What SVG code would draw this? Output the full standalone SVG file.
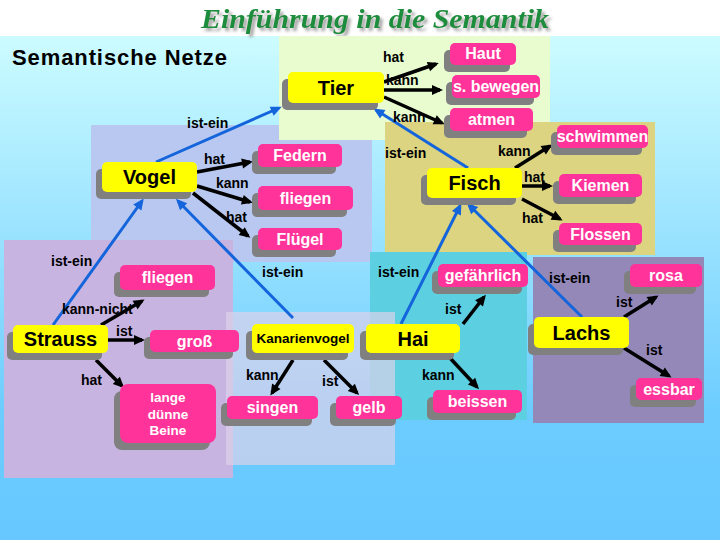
<svg xmlns="http://www.w3.org/2000/svg" width="720" height="540" viewBox="0 0 720 540">
<defs>
<linearGradient id="bg" x1="0" y1="0" x2="0" y2="1">
<stop offset="0" stop-color="#ccfcff"/>
<stop offset="0.75" stop-color="#6cccff"/>
<stop offset="1" stop-color="#66c8ff"/>
</linearGradient>
<filter id="tsh" x="-5%" y="-30%" width="110%" height="170%">
<feDropShadow dx="3" dy="3" stdDeviation="1.5" flood-color="#808080" flood-opacity="0.7"/>
</filter>
<marker id="ab" markerUnits="userSpaceOnUse" markerWidth="14" markerHeight="12" viewBox="0 -6 12 12" refX="8" refY="0" orient="auto">
<path d="M0,-5 L11,0 L0,5 z" fill="#000"/>
</marker>
<marker id="au" markerUnits="userSpaceOnUse" markerWidth="14" markerHeight="12" viewBox="0 -6 12 12" refX="8" refY="0" orient="auto">
<path d="M0,-5 L11,0 L0,5 z" fill="#1464dc"/>
</marker>
</defs>
<style>
.sh{fill:#808080}
.y{fill:#ffff00}
.p{fill:#ff3399}
.yt{font-family:"Liberation Sans",Arial,sans-serif;font-weight:bold;font-size:20px;fill:#000;text-anchor:middle}
.pt{font-family:"Liberation Sans",Arial,sans-serif;font-weight:bold;font-size:16px;fill:#fff;text-anchor:middle}
.lb{font-family:"Liberation Sans",Arial,sans-serif;font-weight:bold;font-size:14px;fill:#000}
.bk{stroke:#000;stroke-width:3.5;fill:none;marker-end:url(#ab)}
.bl{stroke:#1464dc;stroke-width:3;fill:none;marker-end:url(#au)}
</style>
<rect x="0" y="0" width="720" height="540" fill="#ffffff"/>
<rect x="0" y="36" width="720" height="504" fill="url(#bg)"/>
<g id="title">
<text x="201" y="28" font-family="Liberation Serif,serif" font-style="italic" font-weight="bold" font-size="27" textLength="348" lengthAdjust="spacingAndGlyphs" fill="#1e8c3c" filter="url(#tsh)">Einführung in die Semantik</text>
</g>
<g id="regions">
<rect x="91" y="125" width="281" height="137" fill="#b8c8f0"/>
<rect x="279" y="36" width="271" height="104" fill="#e8fcd0"/>
<rect x="385" y="122" width="270" height="133" fill="#dcd480"/>
<rect x="4" y="240" width="229" height="238" fill="#c8b4e0"/>
<rect x="370" y="252" width="157" height="168" fill="#5cd0e0"/>
<rect x="533" y="257" width="171" height="166" fill="#9488b8"/>
<rect x="226" y="312" width="169" height="153" fill="#dcd2eb" opacity="0.7"/>
</g>
<text x="12" y="65" font-family="Liberation Sans,Arial,sans-serif" font-weight="bold" font-size="22" letter-spacing="0.9" fill="#000">Semantische Netze</text>
<g id="connectors">
<line class="bk" x1="384" y1="82" x2="436" y2="64"/>
<line class="bk" x1="384" y1="90" x2="440" y2="90"/>
<line class="bk" x1="384" y1="97" x2="442" y2="123"/>
<line class="bk" x1="197" y1="172" x2="250" y2="162"/>
<line class="bk" x1="197" y1="186" x2="250" y2="202"/>
<line class="bk" x1="193" y1="193" x2="248" y2="236"/>
<line class="bk" x1="515" y1="168" x2="550" y2="146"/>
<line class="bk" x1="522" y1="186" x2="550" y2="186"/>
<line class="bk" x1="522" y1="199" x2="560" y2="219"/>
<line class="bk" x1="101" y1="325" x2="142" y2="301"/>
<line class="bk" x1="108" y1="340" x2="142" y2="340"/>
<line class="bk" x1="96" y1="360" x2="122" y2="386"/>
<line class="bk" x1="293" y1="360" x2="272" y2="393"/>
<line class="bk" x1="324" y1="360" x2="357" y2="393"/>
<line class="bk" x1="463" y1="324" x2="484" y2="297"/>
<line class="bk" x1="450" y1="358" x2="477" y2="387"/>
<line class="bk" x1="624" y1="317" x2="656" y2="297"/>
<line class="bk" x1="624" y1="348" x2="669" y2="376"/>
<line class="bl" x1="156" y1="162" x2="279" y2="108"/>
<line class="bl" x1="468" y1="168" x2="376" y2="110"/>
<line class="bl" x1="53" y1="325" x2="142" y2="201"/>
<line class="bl" x1="293" y1="318" x2="178" y2="201"/>
<line class="bl" x1="401" y1="324" x2="460" y2="206"/>
<line class="bl" x1="582" y1="317" x2="469" y2="205"/>
</g>
<g id="labels">
<text class="lb" x="383" y="62">hat</text>
<text class="lb" x="386" y="85">kann</text>
<text class="lb" x="393" y="122">kann</text>
<text class="lb" x="187" y="128">ist-ein</text>
<text class="lb" x="385" y="158">ist-ein</text>
<text class="lb" x="204" y="164">hat</text>
<text class="lb" x="216" y="188">kann</text>
<text class="lb" x="226" y="222">hat</text>
<text class="lb" x="498" y="156">kann</text>
<text class="lb" x="524" y="182">hat</text>
<text class="lb" x="522" y="223">hat</text>
<text class="lb" x="51" y="266">ist-ein</text>
<text class="lb" x="262" y="277">ist-ein</text>
<text class="lb" x="378" y="277">ist-ein</text>
<text class="lb" x="549" y="283">ist-ein</text>
<text class="lb" x="62" y="314">kann-nicht</text>
<text class="lb" x="116" y="336">ist</text>
<text class="lb" x="81" y="385">hat</text>
<text class="lb" x="246" y="380">kann</text>
<text class="lb" x="322" y="386">ist</text>
<text class="lb" x="445" y="314">ist</text>
<text class="lb" x="422" y="380">kann</text>
<text class="lb" x="616" y="307">ist</text>
<text class="lb" x="646" y="355">ist</text>
</g>
<g id="node-tier"><rect class="sh" x="282" y="79" width="96" height="31" rx="5"/><rect class="y" x="288" y="72" width="96" height="31" rx="5"/><text class="yt" x="336" y="95">Tier</text></g>
<g id="node-fisch"><rect class="sh" x="421" y="175" width="95" height="30" rx="5"/><rect class="y" x="427" y="168" width="95" height="30" rx="5"/><text class="yt" x="474.5" y="190">Fisch</text></g>
<g id="node-vogel"><rect class="sh" x="96" y="169" width="95" height="30" rx="5"/><rect class="y" x="102" y="162" width="95" height="30" rx="5"/><text class="yt" x="149.5" y="184">Vogel</text></g>
<g id="node-strauss"><rect class="sh" x="7" y="332" width="95" height="28" rx="5"/><rect class="y" x="13" y="325" width="95" height="28" rx="5"/><text class="yt" x="60.5" y="346">Strauss</text></g>
<g id="node-kanarienvogel"><rect class="sh" x="246" y="331" width="102" height="29" rx="5"/><rect class="y" x="252" y="324" width="102" height="29" rx="5"/><text class="yt" x="303" y="343" style="font-size:13.5px">Kanarienvogel</text></g>
<g id="node-hai"><rect class="sh" x="360" y="331" width="94" height="29" rx="5"/><rect class="y" x="366" y="324" width="94" height="29" rx="5"/><text class="yt" x="413" y="346">Hai</text></g>
<g id="node-lachs"><rect class="sh" x="528" y="324" width="95" height="31" rx="5"/><rect class="y" x="534" y="317" width="95" height="31" rx="5"/><text class="yt" x="581.5" y="340">Lachs</text></g>
<g id="node-haut"><rect class="sh" x="444" y="50" width="66" height="22" rx="5"/><rect class="p" x="450" y="43" width="66" height="22" rx="5"/><text class="pt" x="483" y="59">Haut</text></g>
<g id="node-bewegen"><rect class="sh" x="446" y="82" width="88" height="23" rx="5"/><rect class="p" x="452" y="75" width="88" height="23" rx="5"/><text class="pt" x="496" y="92">s. bewegen</text></g>
<g id="node-atmen"><rect class="sh" x="444" y="115" width="83" height="23" rx="5"/><rect class="p" x="450" y="108" width="83" height="23" rx="5"/><text class="pt" x="491.5" y="125">atmen</text></g>
<g id="node-schwimmen"><rect class="sh" x="551" y="132" width="91" height="23" rx="5"/><rect class="p" x="557" y="125" width="91" height="23" rx="5"/><text class="pt" x="602.5" y="142">schwimmen</text></g>
<g id="node-kiemen"><rect class="sh" x="553" y="181" width="83" height="23" rx="5"/><rect class="p" x="559" y="174" width="83" height="23" rx="5"/><text class="pt" x="600.5" y="191">Kiemen</text></g>
<g id="node-flossen"><rect class="sh" x="553" y="230" width="83" height="22" rx="5"/><rect class="p" x="559" y="223" width="83" height="22" rx="5"/><text class="pt" x="600.5" y="240">Flossen</text></g>
<g id="node-federn"><rect class="sh" x="252" y="151" width="84" height="23" rx="5"/><rect class="p" x="258" y="144" width="84" height="23" rx="5"/><text class="pt" x="300" y="161">Federn</text></g>
<g id="node-fliegen1"><rect class="sh" x="252" y="193" width="95" height="24" rx="5"/><rect class="p" x="258" y="186" width="95" height="24" rx="5"/><text class="pt" x="305.5" y="204">fliegen</text></g>
<g id="node-fluegel"><rect class="sh" x="252" y="235" width="84" height="22" rx="5"/><rect class="p" x="258" y="228" width="84" height="22" rx="5"/><text class="pt" x="300" y="245">Flügel</text></g>
<g id="node-fliegen2"><rect class="sh" x="114" y="272" width="95" height="25" rx="5"/><rect class="p" x="120" y="265" width="95" height="25" rx="5"/><text class="pt" x="167.5" y="283">fliegen</text></g>
<g id="node-gross"><rect class="sh" x="144" y="337" width="89" height="22" rx="5"/><rect class="p" x="150" y="330" width="89" height="22" rx="5"/><text class="pt" x="194.5" y="347">groß</text></g>
<g id="node-beine"><rect class="sh" x="114" y="391" width="96" height="59" rx="8"/><rect class="p" x="120" y="384" width="96" height="59" rx="8"/><text class="pt" x="168" style="font-size:13.5px"><tspan x="168" y="402">lange</tspan><tspan x="168" y="419">dünne</tspan><tspan x="168" y="435">Beine</tspan></text></g>
<g id="node-singen"><rect class="sh" x="221" y="403" width="91" height="23" rx="5"/><rect class="p" x="227" y="396" width="91" height="23" rx="5"/><text class="pt" x="272.5" y="413">singen</text></g>
<g id="node-gelb"><rect class="sh" x="330" y="403" width="66" height="23" rx="5"/><rect class="p" x="336" y="396" width="66" height="23" rx="5"/><text class="pt" x="369" y="413">gelb</text></g>
<g id="node-gefaehrlich"><rect class="sh" x="432" y="271" width="90" height="23" rx="5"/><rect class="p" x="438" y="264" width="90" height="23" rx="5"/><text class="pt" x="483" y="281">gefährlich</text></g>
<g id="node-beissen"><rect class="sh" x="427" y="397" width="89" height="23" rx="5"/><rect class="p" x="433" y="390" width="89" height="23" rx="5"/><text class="pt" x="477.5" y="407">beissen</text></g>
<g id="node-rosa"><rect class="sh" x="624" y="271" width="72" height="23" rx="5"/><rect class="p" x="630" y="264" width="72" height="23" rx="5"/><text class="pt" x="666" y="281">rosa</text></g>
<g id="node-essbar"><rect class="sh" x="630" y="385" width="66" height="22" rx="5"/><rect class="p" x="636" y="378" width="66" height="22" rx="5"/><text class="pt" x="669" y="395">essbar</text></g>
</svg>
